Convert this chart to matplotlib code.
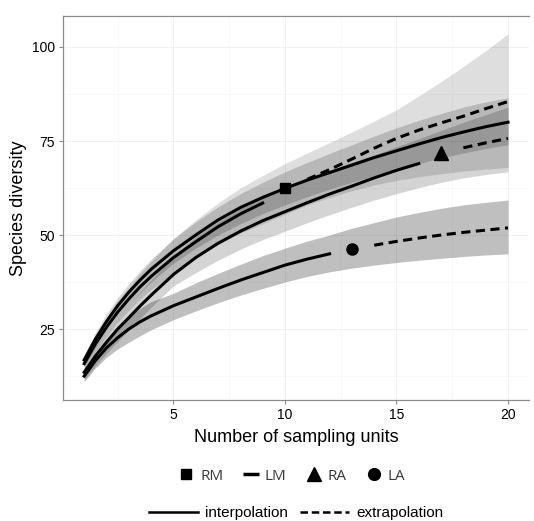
import matplotlib
matplotlib.use("Agg")
import matplotlib.pyplot as plt
from matplotlib.lines import Line2D
import numpy as np

# sampling units (half steps where the curves bend fastest)
units = np.array([1, 1.5, 2, 2.5, 3, 3.5, 4, 5, 6, 7, 8, 9, 10,
                  11, 12, 13, 14, 15, 16, 17, 18, 19, 20])

# estimated diversity per site
lm_est = [16.8, 22.3, 27.0, 31.2, 34.8, 38.0, 40.9, 45.8, 50.0, 54.0, 57.3,
          60.0, 62.4, 64.6, 66.6, 68.6, 70.6, 72.4, 74.2, 75.9, 77.4, 78.8,
          80.0]
rm_interp = [15.8, 21.0, 25.5, 29.5, 33.0, 36.2, 39.0, 44.0, 48.2, 52.2,
             55.6, 58.5]
rm_extrap = [62.4, 64.8, 67.4, 70.2, 73.1, 75.7, 77.9, 79.8, 81.6, 83.6,
             85.5]
ra_interp = [13.5, 17.8, 21.5, 25.0, 28.0, 31.1, 34.0, 39.5, 44.0, 47.8,
             51.0, 53.8, 56.2, 58.6, 60.9, 63.0, 65.2, 67.2, 69.0]
ra_extrap = [71.8, 73.2, 74.5, 75.7]
la_interp = [12.5, 16.6, 20.0, 22.7, 25.0, 26.9, 28.5, 31.2, 33.5, 35.8,
             38.0, 40.0, 42.0, 43.6, 45.0]
la_extrap = [46.2, 47.3, 48.3, 49.2, 50.0, 50.7, 51.3, 51.9]

# observed points
obs_x = {"RM": 10, "LM": 20, "RA": 17, "LA": 13}
obs_y = {"RM": 62.4, "LM": 80.0, "RA": 71.8, "LA": 46.2}

# confidence bands
rm_lo = [14.0, 18.8, 23.0, 26.8, 30.0, 33.0, 35.5, 40.0, 44.0, 47.5, 50.5,
         53.0, 55.5, 58.0, 60.0, 61.8, 63.3, 64.5, 65.5, 66.3, 67.0, 67.5,
         68.0]
rm_hi = [17.5, 23.2, 28.0, 32.3, 36.0, 39.7, 43.0, 49.0, 54.0, 58.5, 62.5,
         65.8, 69.0, 71.8, 74.6, 77.4, 80.3, 83.3, 87.0, 90.8, 94.8, 99.0,
         103.5]
lm_lo = [15.0, 20.0, 24.5, 28.2, 31.5, 34.6, 37.5, 42.5, 46.5, 50.0, 53.0,
         55.7, 58.0, 60.2, 62.2, 64.0, 65.8, 67.5, 69.0, 70.5, 71.8, 73.0,
         74.0]
lm_hi = [18.0, 24.0, 29.0, 33.3, 37.0, 40.4, 43.5, 49.0, 53.5, 57.5, 61.0,
         64.0, 66.8, 69.3, 71.7, 74.0, 76.3, 78.5, 80.5, 82.3, 84.0, 85.4,
         86.5]
ra_lo = [11.5, 15.2, 18.5, 21.7, 24.7, 27.8, 30.8, 36.5, 40.0, 43.3, 46.2,
         48.8, 51.0, 53.3, 55.4, 57.4, 59.3, 61.0, 62.6, 64.0, 65.2, 66.1,
         66.8]
ra_hi = [15.5, 20.3, 24.5, 28.2, 31.5, 34.8, 38.0, 44.5, 49.5, 53.5, 57.0,
         60.0, 62.5, 65.0, 67.2, 69.3, 71.3, 73.5, 75.6, 77.8, 80.0, 82.0,
         84.0]
la_lo = [11.0, 14.6, 17.5, 19.7, 21.5, 23.2, 24.8, 27.5, 29.8, 32.0, 34.0,
         35.8, 37.5, 39.0, 40.2, 41.2, 42.0, 42.7, 43.3, 43.8, 44.3, 44.7,
         45.0]
la_hi = [14.0, 18.6, 22.5, 25.6, 28.2, 30.5, 32.3, 34.5, 37.3, 39.8, 42.2,
         44.5, 46.5, 48.4, 50.0, 51.8, 53.3, 54.8, 56.0, 57.1, 58.0, 58.7,
         59.3]

plt.rcParams["font.family"] = ["Liberation Sans", "DejaVu Sans"]

fig = plt.figure(figsize=(5.34, 5.21), dpi=100)
ax = fig.add_axes([0.118, 0.232, 0.873, 0.737])

# ribbons
ax.fill_between(units, rm_lo, rm_hi, color="black", alpha=0.13, lw=0)
ax.fill_between(units, lm_lo, lm_hi, color="black", alpha=0.17, lw=0)
ax.fill_between(units, ra_lo, ra_hi, color="black", alpha=0.17, lw=0)
ax.fill_between(units, la_lo, la_hi, color="black", alpha=0.25, lw=0)

lw = 2.2
dash = (3, 1.8)


def seg(start, values):
    # x positions for a run of values starting at sampling unit `start`
    i = int(np.searchsorted(units, start))
    return units[i:i + len(values)]


ax.plot(units, lm_est, color="black", lw=lw)
ax.plot(seg(1, rm_interp), rm_interp, color="black", lw=lw)
ax.plot(seg(10, rm_extrap)[1:], rm_extrap[1:], color="black", lw=lw,
        ls=(0, dash))
ax.plot(seg(1, ra_interp), ra_interp, color="black", lw=lw)
ax.plot(seg(17, ra_extrap)[1:], ra_extrap[1:], color="black", lw=lw,
        ls=(0, dash))
ax.plot(seg(1, la_interp), la_interp, color="black", lw=lw)
ax.plot(seg(13, la_extrap)[1:], la_extrap[1:], color="black", lw=lw,
        ls=(0, dash))

ax.plot(obs_x["RM"], obs_y["RM"], marker="s", ms=7.5, color="black", ls="")
ax.plot(obs_x["RA"], obs_y["RA"], marker="^", ms=10, color="black", ls="")
ax.plot(obs_x["LA"], obs_y["LA"], marker="o", ms=8, color="black", ls="")

ax.set_xlim(0.05, 20.95)
ax.set_ylim(6.1, 108.2)
ax.set_xticks([5, 10, 15, 20])
ax.set_yticks([25, 50, 75, 100])
ax.set_xticks([2.5, 7.5, 12.5, 17.5], minor=True)
ax.set_yticks([12.5, 37.5, 62.5, 87.5], minor=True)
ax.grid(True, which="major", color="#efefef", lw=0.6, zorder=0)
ax.grid(True, which="minor", color="#f7f7f7", lw=0.5, zorder=0)
ax.set_axisbelow(True)
ax.tick_params(which="minor", length=0)
ax.tick_params(which="major", length=3, width=0.8, color="#888888",
               labelsize=10, pad=3)
for s in ["left", "bottom", "top"]:
    ax.spines[s].set_color("#8c8c8c")
    ax.spines[s].set_linewidth(0.9)
ax.spines["right"].set_visible(False)

fig.text(296 / 534, 1 - 437 / 521, "Number of sampling units",
         ha="center", va="center", fontsize=13)
fig.text(19 / 534, 1 - 208 / 521, "Species diversity", rotation=90,
         ha="center", va="center", fontsize=13)

# shape legend
shape_handles = [
    Line2D([], [], marker="s", ms=7.5, color="black", ls=""),
    Line2D([], [], marker="_", ms=11, mew=2.5, color="black", ls=""),
    Line2D([], [], marker="^", ms=10, color="black", ls=""),
    Line2D([], [], marker="o", ms=8.5, color="black", ls=""),
]
leg1 = fig.legend(shape_handles, ["RM", "LM", "RA", "LA"], ncol=4,
                  loc="center", bbox_to_anchor=(292 / 534, 1 - 476 / 521),
                  frameon=False, handlelength=1.0, handletextpad=0.4,
                  columnspacing=1.3,
                  prop={"family": "Open Sans", "size": 11})
for t in leg1.get_texts():
    t.set_color("#3a3a3a")

style_handles = [
    Line2D([], [], color="black", lw=1.8),
    Line2D([], [], color="black", lw=1.8, ls=(0, (3, 1.5))),
]
fig.legend(style_handles, ["interpolation", "extrapolation"], ncol=2,
           loc="center", bbox_to_anchor=(296 / 534, 1 - 513 / 521),
           frameon=False, handlelength=3.2, handletextpad=0.45,
           columnspacing=0.85, prop={"size": 11})

fig.savefig("out.png", dpi=100)
